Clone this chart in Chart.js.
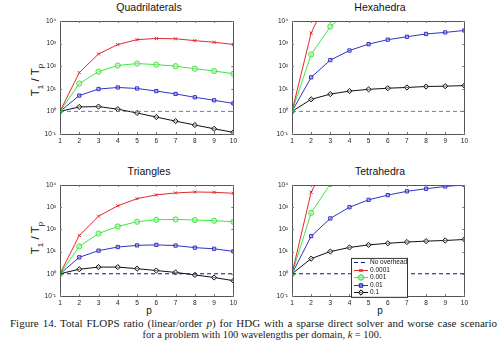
<!DOCTYPE html>
<html><head><meta charset="utf-8">
<script src="https://cdn.jsdelivr.net/npm/chart.js@4/dist/chart.umd.min.js"></script>
<style>
body{margin:0;background:#fff;width:499px;height:354px;position:relative;overflow:hidden;font-family:"Liberation Sans",Arial,sans-serif}
canvas{position:absolute}
.t{position:absolute;font-size:10.5px;color:#111;white-space:nowrap;transform:translateX(-50%)}
.yl{position:absolute;font-size:11.5px;color:#111;white-space:nowrap;transform:translate(-50%,-50%) rotate(-90deg)}
.yl sub{font-size:8px}
.px{position:absolute;font-size:10px;color:#111;transform:translateX(-50%)}
.cap{position:absolute;font-family:"Liberation Serif","Times New Roman",serif;font-weight:400;color:#1a1a1a;white-space:nowrap}
.cap1{left:10px;width:487px;font-size:11px;text-align:justify;text-align-last:justify;white-space:normal}
.cap2{left:262px;font-size:10.4px;transform:translateX(-50%)}
</style></head><body>
<div class="t" style="left:149px;top:1px">Quadrilaterals</div>
<div class="t" style="left:380px;top:1px">Hexahedra</div>
<div class="t" style="left:149px;top:165px">Triangles</div>
<div class="t" style="left:380px;top:165px">Tetrahedra</div>
<div class="yl" style="left:37px;top:80px">T<sub>1</sub> / T<sub>p</sub></div>
<div class="yl" style="left:37px;top:238px">T<sub>1</sub> / T<sub>p</sub></div>
<div class="px" style="left:149px;top:305px">p</div>
<div class="px" style="left:380px;top:305px">p</div>
<div class="cap cap1" style="top:317px">Figure 14. Total FLOPS ratio (linear/order <i>p</i>) for HDG with a sparse direct solver and worse case scenario</div>
<div class="cap cap2" style="top:329px">for a problem with 100 wavelengths per domain, <i>k</i> = 100.</div>
<canvas id="cQ"></canvas><canvas id="cH"></canvas><canvas id="cTr"></canvas><canvas id="cTe"></canvas>
<script>
const pValues = [1,2,3,4,5,6,7,8,9,10];
const yTickValues = [0.1,1,10,100,1000,10000];
const yTickLabels = ["10\u207B\u00B9","10\u2070","10\u00B9","10\u00B2","10\u00B3","10\u2074"];
const seriesNames = ["No overhead","0.0001","0.001","0.01","0.1"];

const quadNoOverhead = [1,1,1,1,1,1,1,1,1,1];
const quadRed   = [1,52,345,900,1480,1670,1620,1340,1140,910];
const quadGreen = [1,17,57,107,130,117,100,77,61,46];
const quadBlue  = [1,5.0,9.7,11.4,10.3,7.9,5.9,4.2,3.1,2.25];
const quadBlack = [1,1.57,1.63,1.25,0.85,0.56,0.37,0.25,0.17,0.118];

const hexNoOverhead = [1,1,1,1,1,1,1,1,1,1];
const hexRed   = [1,2900,180000,null,null,null,null,null,null,null];
const hexGreen = [1,330,5600,30000,null,null,null,null,null,null];
const hexBlue  = [1,32,185,490,940,1480,1990,2650,3100,3780];
const hexBlack = [1,3.4,5.8,7.9,9.4,10.6,11.4,12.6,13,13.8];

const triNoOverhead = [1,1,1,1,1,1,1,1,1,1];
const triRed   = [1,53,390,1150,2400,3550,4350,4800,4650,4200];
const triGreen = [1,17,65,135,220,270,280,262,245,220];
const triBlue  = [1,5.5,11,16,19,20,18.6,15,13.3,10.2];
const triBlack = [1,1.6,2.0,2.0,1.7,1.4,1.15,0.89,0.68,0.49];

const tetNoOverhead = [1,1,1,1,1,1,1,1,1,1];
const tetRed   = [1,4700,200000,null,null,null,null,null,null,null];
const tetGreen = [1,550,11000,null,null,null,null,null,null,null];
const tetBlue  = [1,49,310,990,2130,3470,5150,6700,8500,10000];
const tetBlack = [1,4.8,10,15.3,20,23.5,26.8,29.5,31.5,35];

const COL = {red:'#e02a2e', green:'#3ee83e', blue:'#3232cc', black:'#111111'};
const toXY = arr => pValues.map((p,i)=>({x:p,y:arr[i]}));

function datasets(noOv, r, g, b, k, dashCol){
  return [
    {label:seriesNames[0], data:toXY(noOv), borderColor:dashCol, borderDash:[4,3], borderWidth:1, pointRadius:0},
    {label:seriesNames[1], data:toXY(r), borderColor:COL.red, borderWidth:1, pointStyle:'crossRot', pointRadius:2.2, pointBorderColor:COL.red, pointBackgroundColor:'transparent', pointBorderWidth:1},
    {label:seriesNames[2], data:toXY(g), borderColor:COL.green, borderWidth:1, pointStyle:'circle', pointRadius:2.6, pointBorderColor:COL.green, pointBackgroundColor:'rgba(180,240,180,0.5)', pointBorderWidth:1},
    {label:seriesNames[3], data:toXY(b), borderColor:COL.blue, borderWidth:1, pointStyle:'rect', pointRadius:2.3, pointBorderColor:COL.blue, pointBackgroundColor:'rgba(180,180,240,0.5)', pointBorderWidth:1},
    {label:seriesNames[4], data:toXY(k), borderColor:COL.black, borderWidth:1, pointStyle:'rectRot', pointRadius:2.6, pointBorderColor:COL.black, pointBackgroundColor:'rgba(220,220,220,0.5)', pointBorderWidth:1}
  ];
}

const boxPlugin = {
  id:'box',
  afterDraw(chart){
    const {ctx, chartArea:a} = chart;
    ctx.save();
    ctx.strokeStyle='#555'; ctx.lineWidth=1;
    ctx.strokeRect(Math.round(a.left)+0.5, Math.round(a.top)+0.5, Math.round(a.right-a.left), Math.round(a.bottom-a.top));
    ctx.strokeStyle='#777';
    const xs = chart.scales.x, ys = chart.scales.y;
    pValues.forEach(p=>{const x=Math.round(xs.getPixelForValue(p))+0.5; ctx.beginPath(); ctx.moveTo(x,a.bottom); ctx.lineTo(x,a.bottom-2); ctx.moveTo(x,a.top); ctx.lineTo(x,a.top+2); ctx.stroke();});
    yTickValues.forEach(v=>{const y=Math.round(ys.getPixelForValue(v))+0.5; ctx.beginPath(); ctx.moveTo(a.left,y); ctx.lineTo(a.left+2,y); ctx.moveTo(a.right,y); ctx.lineTo(a.right-2,y); ctx.stroke();});
    ctx.restore();
  }
};

const legendPlugin = {
  id:'inlegend',
  afterDraw(chart, args, opts){
    if(!opts.show) return;
    const {ctx, chartArea:a} = chart;
    const x0 = a.left + 59, y0 = a.top + 73, w = 56, h = 39;
    ctx.save();
    ctx.fillStyle='#fff'; ctx.fillRect(x0,y0,w,h);
    ctx.strokeStyle='#333'; ctx.lineWidth=1; ctx.strokeRect(x0+0.5,y0+0.5,w,h);
    ctx.font='6.5px "Liberation Sans", Arial, sans-serif'; ctx.textBaseline='middle';
    chart.data.datasets.forEach((ds,i)=>{
      const y = Math.round(y0 + 4.5 + i*7.5)+0.5;
      ctx.strokeStyle = ds.borderColor; ctx.lineWidth=1;
      ctx.setLineDash(ds.borderDash||[]);
      ctx.beginPath(); ctx.moveTo(x0+3,y); ctx.lineTo(x0+17,y); ctx.stroke();
      ctx.setLineDash([]);
      if(ds.pointRadius>0){
        ctx.fillStyle = ds.pointBackgroundColor;
        Chart.helpers.drawPoint(ctx,{pointStyle:ds.pointStyle, radius:ds.pointRadius, borderWidth:1, rotation:0}, x0+10, y);
        ctx.stroke();
      }
      ctx.fillStyle='#111';
      ctx.fillText(ds.label, x0+19, y);
    });
    ctx.restore();
  }
};

function makeChart(id, plot, ds, legend){
  const c = document.getElementById(id);
  const yw = 30, xh = 12, padT = 3, padR = 3;
  const left = plot.L - yw, top = plot.T - padT;
  const width = plot.R + padR - left, height = plot.B + xh - top;
  c.style.left = left+'px'; c.style.top = top+'px';
  c.style.width = width+'px'; c.style.height = height+'px';
  c.width = width; c.height = height;
  new Chart(c, {
    type:'line',
    data:{datasets:ds},
    options:{
      responsive:false, animation:false, devicePixelRatio:1,
      layout:{padding:{top:padT,right:padR,left:0,bottom:0}},
      plugins:{legend:{display:false}, tooltip:{enabled:false}, inlegend:{show:!!legend}},
      elements:{line:{tension:0}},
      scales:{
        x:{type:'linear', min:1, max:10, grid:{display:false, drawTicks:false}, border:{display:false},
           afterFit(s){s.height=xh;},
           afterBuildTicks(s){s.ticks = pValues.map(v=>({value:v}));},
           ticks:{padding:3, color:'#222', font:{size:6.5, family:'"Liberation Sans", Arial, sans-serif'}, maxRotation:0, autoSkip:false, callback:v=>String(v)}},
        y:{type:'logarithmic', min:0.1, max:10000, grid:{display:false, drawTicks:false}, border:{display:false},
           afterFit(s){s.width=yw;},
           afterBuildTicks(s){s.ticks = yTickValues.map(v=>({value:v}));},
           ticks:{padding:4, color:'#222', font:{size:6.5, family:'"Liberation Sans", Arial, sans-serif'}, autoSkip:false,
             callback:(v)=>{const i=yTickValues.findIndex(t=>Math.abs(t-v)/t<1e-6); return i>=0?yTickLabels[i]:'';}}}
      }
    },
    plugins:[boxPlugin, legendPlugin]
  });
}

makeChart('cQ',  {L:60,T:16,R:237,B:134}, datasets(quadNoOverhead,quadRed,quadGreen,quadBlue,quadBlack,'#6f6fd6'));
makeChart('cH',  {L:292,T:16,R:468,B:134}, datasets(hexNoOverhead,hexRed,hexGreen,hexBlue,hexBlack,'#6f6fd6'));
makeChart('cTr', {L:60,T:180,R:237,B:296}, datasets(triNoOverhead,triRed,triGreen,triBlue,triBlack,'#101080'));
makeChart('cTe', {L:292,T:180,R:468,B:296}, datasets(tetNoOverhead,tetRed,tetGreen,tetBlue,tetBlack,'#101080'), true);
</script>
</body></html>
